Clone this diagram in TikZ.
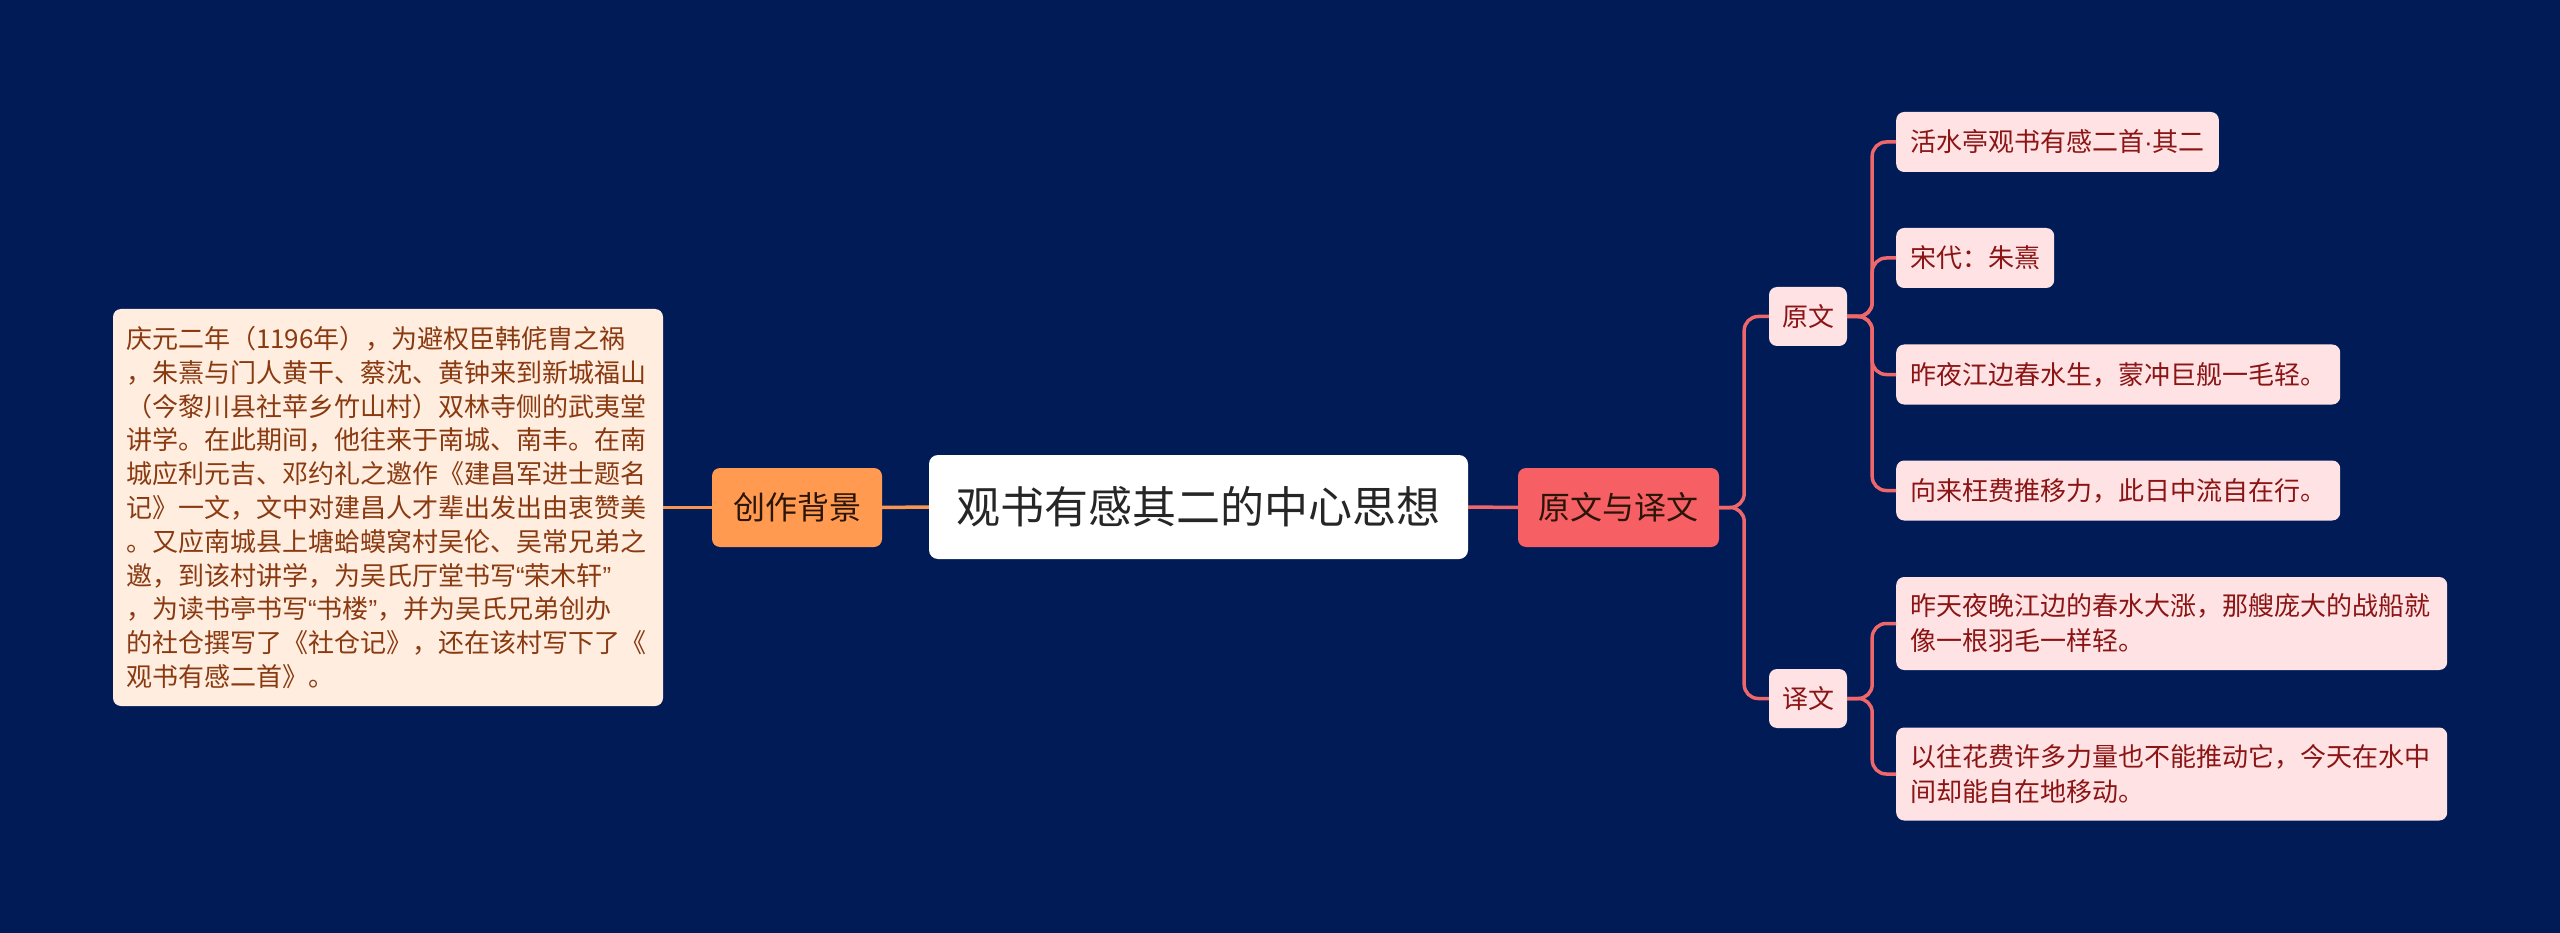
\documentclass[tikz,border=0pt]{standalone}
\usepackage{fontspec}
\setmainfont{Noto Sans CJK SC}
\newfontfamily\latinf{Liberation Sans}
\newcommand{\myopq}{{\latinf “}}
\newcommand{\myclq}{{\latinf ”}}
\newcommand{\mymdot}{{\latinf ·}}
\definecolor{bgc}{HTML}{011B57}
\definecolor{orangefill}{HTML}{FF9A50}
\definecolor{coralfill}{HTML}{F65F63}
\definecolor{peach}{HTML}{FFEDE0}
\definecolor{pinkfill}{HTML}{FFE3E4}
\definecolor{orangeline}{HTML}{F8954F}
\definecolor{redline}{HTML}{EE676B}
\definecolor{browntext}{HTML}{8A3A10}
\definecolor{redtext}{HTML}{8B1414}
\definecolor{darktext}{HTML}{2A1508}
\tikzset{
  centerbox/.style={fill=white, rounded corners=9pt, minimum width=539pt, minimum height=104pt, inner sep=0pt, text=black!85, font=\fontsize{44pt}{52pt}\selectfont},
  mainbox/.style={rounded corners=8pt, minimum height=79pt, inner sep=0pt, font=\fontsize{32pt}{38pt}\selectfont},
  subbox/.style={fill=pinkfill, rounded corners=8pt, minimum width=78pt, minimum height=59pt, inner sep=0pt, text=redtext, font=\fontsize{26pt}{34pt}\selectfont},
  leafbox/.style={fill=pinkfill, rounded corners=8pt, anchor=west, minimum height=60pt, inner xsep=14pt, inner ysep=0pt, text=redtext, font=\fontsize{26pt}{34pt}\selectfont},
  leaftwo/.style={fill=pinkfill, rounded corners=8pt, anchor=west, minimum height=93pt, inner xsep=14pt, inner ysep=0pt, text width=523pt, align=left, text=redtext, font=\fontsize{26pt}{35pt}\selectfont},
  notebox/.style={fill=peach, rounded corners=8pt, minimum width=550pt, minimum height=397pt, inner xsep=13pt, inner ysep=0pt, text width=524pt, align=left, text=browntext, font=\fontsize{26pt}{33.8pt}\selectfont},
  oconn/.style={draw=orangeline, line width=3.5pt},
  rconn/.style={draw=redline, line width=3.5pt, rounded corners=14pt},
}
\begin{document}
\begin{tikzpicture}[x=1pt, y=-1pt]
\fill[bgc] (0,0) rectangle (2560,933);
\useasboundingbox (0,0) rectangle (2560,933);

\node[centerbox] (c) at (1198.5,507) {观书有感其二的中心思想};
\node[mainbox, fill=orangefill, minimum width=170pt, text=darktext] (bg) at (797,507.5) {创作背景};
\node[mainbox, fill=coralfill, minimum width=201pt, text=darktext] (yw) at (1618.5,507.5) {原文与译文};

\node[notebox] (note) at (388,507.5) {庆元二年（1196年），为避权臣韩侂胄之祸\\，朱熹与门人黄干、蔡沈、黄钟来到新城福山\\（今黎川县社苹乡竹山村）双林寺侧的武夷堂\\讲学。在此期间，他往来于南城、南丰。在南\\城应利元吉、邓约礼之邀作《建昌军进士题名\\记》一文，文中对建昌人才辈出发出由衷赞美\\。又应南城县上塘蛤蟆窝村吴伦、吴常兄弟之\\邀，到该村讲学，为吴氏厅堂书写\myopq 荣木轩\myclq\\，为读书亭书写\myopq 书楼\myclq，并为吴氏兄弟创办\\的社仓撰写了《社仓记》，还在该村写下了《\\观书有感二首》。};

\node[subbox] (orig) at (1808,316.5) {原文};
\node[subbox] (trans) at (1808,698.5) {译文};

\node[leafbox] (o1) at (1896,142) {活水亭观书有感二首\mymdot 其二};
\node[leafbox] (o2) at (1896,258) {宋代：朱熹};
\node[leafbox] (o3) at (1896,374.5) {昨夜江边春水生，蒙冲巨舰一毛轻。};
\node[leafbox] (o4) at (1896,490.5) {向来枉费推移力，此日中流自在行。};

\node[leaftwo] (t1) at (1896,623.5) {昨天夜晚江边的春水大涨，那艘庞大的战船就\\像一根羽毛一样轻。};
\node[leaftwo] (t2) at (1896,774) {以往花费许多力量也不能推动它，今天在水中\\间却能自在地移动。};

\draw[oconn] (note.east) -- (bg.west);
\draw[oconn] (bg.east) -- (c.west);
\draw[rconn] (c.east) -- (yw.west);
\draw[rconn] (yw.east) -- ++(25,0) |- (orig.west);
\draw[rconn] (yw.east) -- ++(25,0) |- (trans.west);
\draw[rconn] (orig.east) -- ++(25,0) |- (o1.west);
\draw[rconn] (orig.east) -- ++(25,0) |- (o2.west);
\draw[rconn] (orig.east) -- ++(25,0) |- (o3.west);
\draw[rconn] (orig.east) -- ++(25,0) |- (o4.west);
\draw[rconn] (trans.east) -- ++(25,0) |- (t1.west);
\draw[rconn] (trans.east) -- ++(25,0) |- (t2.west);
\end{tikzpicture}
\end{document}
